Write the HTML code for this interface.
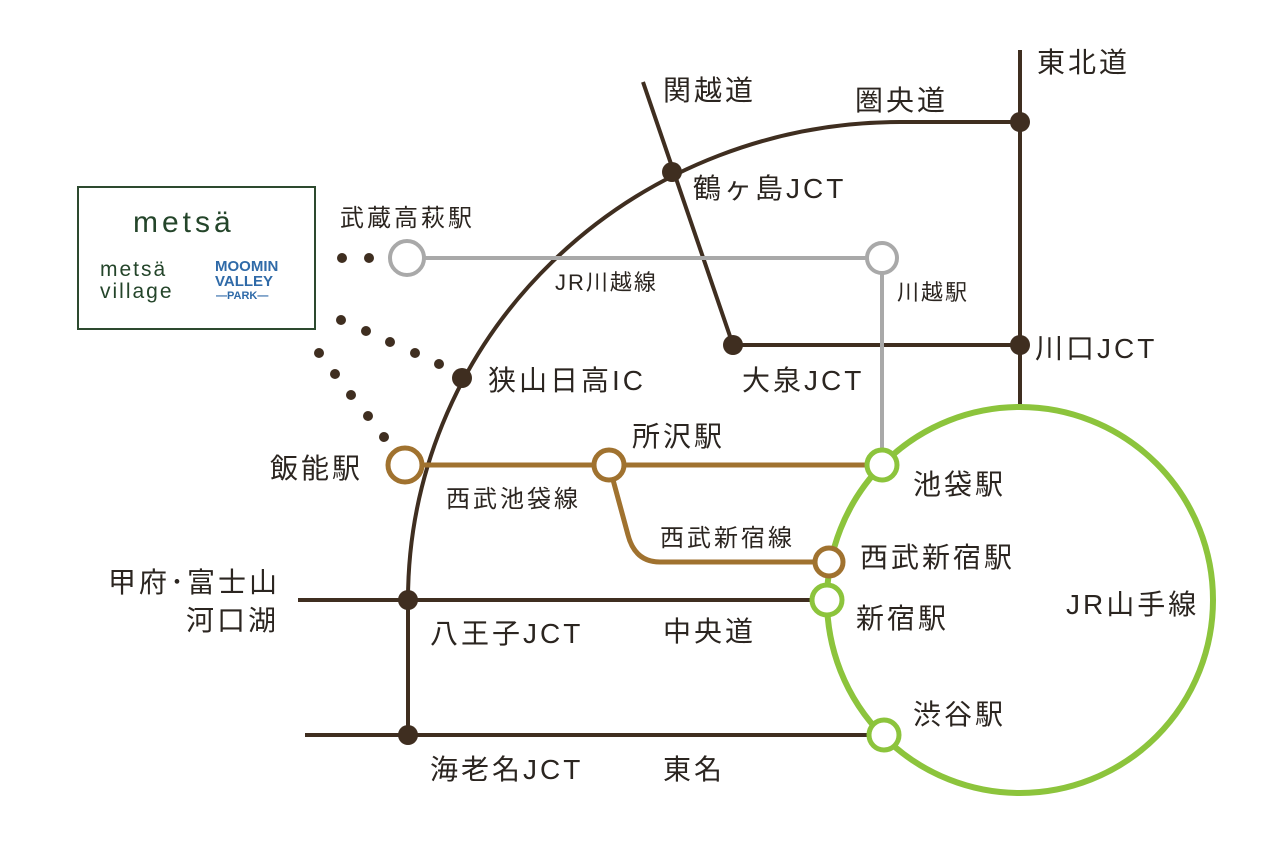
<!DOCTYPE html>
<html><head><meta charset="utf-8"><style>
html,body{margin:0;padding:0;background:#fff;}
svg{display:block}
text{font-family:"Liberation Sans","Noto Sans CJK JP",sans-serif;fill:#2b2520;}
</style></head><body>
<svg width="1281" height="842" viewBox="0 0 1281 842" xmlns="http://www.w3.org/2000/svg">
<g fill="none" stroke="#3f2e20" stroke-width="4">
<path d="M408,735 L408,600 A492,478 0 0 1 900,122 L1020,122"/>
<line x1="1020" y1="50" x2="1020" y2="410"/>
<line x1="643" y1="82" x2="733" y2="345"/>
<line x1="733" y1="345" x2="1020" y2="345"/>
<line x1="298" y1="600" x2="823" y2="600"/>
<line x1="305" y1="735" x2="868" y2="735"/>
</g>
<g fill="none" stroke="#a9a9a9" stroke-width="4">
<line x1="405" y1="258" x2="882" y2="258"/>
<line x1="882" y1="258" x2="882" y2="465"/>
</g>
<g fill="none" stroke="#a0722f" stroke-width="5">
<line x1="405" y1="465" x2="882" y2="465"/>
<path d="M609,465 L628,535 Q635,562 660,562 L829,562"/>
</g>
<circle cx="1020" cy="600" r="193" fill="none" stroke="#8cc43c" stroke-width="6"/>
<g fill="#3f2e20">
<circle cx="1020" cy="122" r="10"/><circle cx="1020" cy="345" r="10"/>
<circle cx="672" cy="172" r="10"/><circle cx="733" cy="345" r="10"/>
<circle cx="462" cy="378" r="10"/><circle cx="408" cy="600" r="10"/><circle cx="408" cy="735" r="10"/>
<circle cx="342" cy="258" r="5"/><circle cx="369" cy="258" r="5"/>
<circle cx="341" cy="320" r="5"/><circle cx="366" cy="331" r="5"/><circle cx="390" cy="342" r="5"/><circle cx="415" cy="353" r="5"/><circle cx="439" cy="364" r="5"/>
<circle cx="319" cy="353" r="5"/><circle cx="335" cy="374" r="5"/><circle cx="351" cy="395" r="5"/><circle cx="368" cy="416" r="5"/><circle cx="384" cy="437" r="5"/>
</g>
<g fill="#fff" stroke-width="4">
<circle cx="407" cy="258" r="17" stroke="#a9a9a9"/>
<circle cx="882" cy="258" r="15" stroke="#a9a9a9"/>
<circle cx="405" cy="465" r="17" stroke="#a0722f" stroke-width="5"/>
<circle cx="609" cy="465" r="15" stroke="#a0722f" stroke-width="5"/>
<circle cx="829" cy="562" r="14" stroke="#a0722f" stroke-width="5"/>
<circle cx="882" cy="465" r="15" stroke="#8cc43c" stroke-width="5"/>
<circle cx="827" cy="600" r="15" stroke="#8cc43c" stroke-width="5"/>
<circle cx="884" cy="735" r="15" stroke="#8cc43c" stroke-width="5"/>
</g>
<rect x="78" y="187" width="237" height="142" fill="none" stroke="#2d4a2f" stroke-width="2"/>
<text x="133" y="232" font-size="30" style="fill:#24452a;letter-spacing:4px">metsä</text>
<text x="100" y="276" font-size="21" style="fill:#24452a;letter-spacing:2px">metsä</text>
<text x="100" y="298" font-size="21" style="fill:#24452a;letter-spacing:2px">village</text>
<text x="215" y="271" font-size="15" font-weight="bold" style="fill:#2f6aa8">MOOMIN</text>
<text x="215" y="286" font-size="15" font-weight="bold" style="fill:#2f6aa8">VALLEY</text>
<text x="216" y="299" font-size="11" font-weight="bold" style="fill:#2f6aa8">—PARK—</text>
<g font-size="28" style="letter-spacing:3px">
<text x="1037" y="72">東北道</text>
<text x="663" y="100">関越道</text>
<text x="855" y="110">圏央道</text>
<text x="693" y="198">鶴ヶ島JCT</text>
<text x="340" y="226" font-size="24">武蔵高萩駅</text>
<text x="555" y="290" font-size="22" style="letter-spacing:2px">JR川越線</text>
<text x="897" y="300" font-size="22" style="letter-spacing:2px">川越駅</text>
<text x="1035" y="358">川口JCT</text>
<text x="742" y="390">大泉JCT</text>
<text x="488" y="390">狭山日高IC</text>
<text x="632" y="446">所沢駅</text>
<text x="270" y="478">飯能駅</text>
<text x="446" y="507" font-size="24">西武池袋線</text>
<text x="913" y="494">池袋駅</text>
<text x="660" y="546" font-size="24">西武新宿線</text>
<text x="860" y="567">西武新宿駅</text>
<text x="108" y="592">甲府･富士山</text>
<text x="186" y="630">河口湖</text>
<text x="856" y="628">新宿駅</text>
<text x="1066" y="614">JR山手線</text>
<text x="430" y="643">八王子JCT</text>
<text x="663" y="641">中央道</text>
<text x="913" y="724">渋谷駅</text>
<text x="430" y="779">海老名JCT</text>
<text x="663" y="779">東名</text>
</g>
</svg>
</body></html>
